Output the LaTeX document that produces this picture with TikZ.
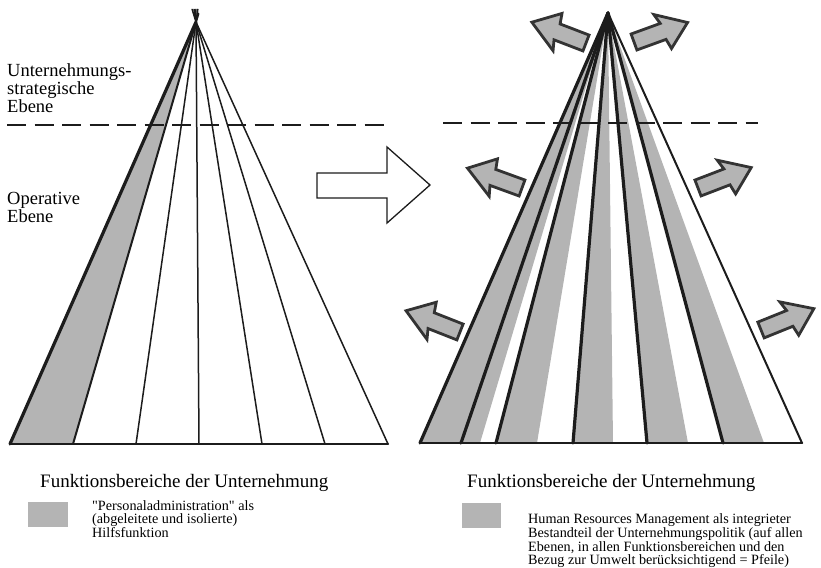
\documentclass[tikz,border=0pt]{standalone}
\usepackage{fontspec}
\setmainfont{Liberation Serif}[Ligatures=TeXOff]
\usetikzlibrary{calc}
\definecolor{fillgray}{RGB}{180,180,180}
\definecolor{ink}{RGB}{28,28,28}
\tikzset{
  thinline/.style={draw=ink, line width=1.5pt, line cap=round},
  thickline/.style={draw=ink, line width=3.2pt, line cap=round},
  dashline/.style={draw=ink, line width=1.6pt, dash pattern=on 19pt off 8.5pt},
  grayarrow/.style={fill=fillgray, draw=ink!90, line width=2.8pt, line join=miter},
  hollowarrow/.style={draw=ink, line width=1.3pt, fill=white, line join=miter},
  bigtxt/.style={anchor=base west, inner sep=0pt, font=\fontsize{18.5}{18.5}\selectfont},
  headtxt/.style={anchor=base west, inner sep=0pt, font=\fontsize{19}{19}\selectfont},
  smalltxt/.style={anchor=base west, inner sep=0pt, font=\fontsize{14.2}{14.2}\selectfont},
  legendbox/.style={fill=fillgray, draw=none}
}
\newcommand\grayarr[4]{%
  \draw[grayarrow, shift={(#1,#2)}, rotate=#3] (0,-8.5) -- (31,-8.5) -- (28,-19) -- (#4,0) -- (33,19) -- (31,8.5) -- (0,8.5) -- cycle;}
\begin{document}
\begin{tikzpicture}[x=1pt,y=-1pt]
\useasboundingbox (0,0) rectangle (821,567);

% ---------- left pyramid ----------
\coordinate (LA) at (196,22);
\coordinate (L0) at (10,444);
\coordinate (L1) at (73,444);
\coordinate (L2) at (136,444);
\coordinate (L3) at (199,444);
\coordinate (L4) at (262,444);
\coordinate (L5) at (325,444);
\coordinate (L6) at (388,444);
\fill[fillgray] (LA) -- (L0) -- (L1) -- cycle;
\draw[dashline] (7,125) -- (386,125);
\foreach \p in {L2,L3,L4,L5}{
  \draw[thinline] (\p) -- ($(\p)!1.03!(LA)$);
}
\draw[thinline] (L6) -- (LA);
\draw[thinline, line width=2pt] (L1) -- ($(L1)!1.02!(LA)$);
\draw[thickline] (L0) -- (LA);
\draw[thinline, line width=2.2pt] (L0) -- (L6);

% ---------- big hollow arrow ----------
\draw[hollowarrow] (317,173) -- (387,173) -- (387,147) -- (430,185) -- (387,223) -- (387,198) -- (317,198) -- cycle;

% ---------- right pyramid ----------
\coordinate (RA) at (608,13);
\foreach \a/\b in {420/480, 496/537, 573/613, 647/688, 723/764}{
  \fill[fillgray] (RA) -- (\a,443) -- (\b,443) -- cycle;
}
\draw[dashline] (443,123) -- (758,123);
\foreach \x in {420,461,496,573,647,723}{
  \draw[thickline] (\x,443) -- (RA);
}
\coordinate (R7) at (802,443);
\draw[thinline, line width=2pt] (R7) -- (RA);
\draw[thinline, line width=2.6pt] (420,443) -- (R7);

% ---------- small gray arrows ----------
\grayarr{586}{43}{159}{58}
\grayarr{522}{188}{160}{58}
\grayarr{460}{332}{158.5}{58}
\grayarr{634}{42}{20}{57}
\grayarr{698}{188}{21}{57}
\grayarr{761}{330}{22}{57}

% ---------- left labels ----------
\node[bigtxt] (t1) at (7,77) {Unternehmungs-};
\node[bigtxt] (t2) at (7,95) {strategische};
\node[bigtxt] (t3) at (7,113) {Ebene};
\node[bigtxt] (t4) at (7,204) {Operative};
\node[bigtxt] (t5) at (7,222.5) {Ebene};

% ---------- bottom headings ----------
\node[headtxt] (h1) at (40,487) {Funktionsbereiche der Unternehmung};
\node[headtxt] (h2) at (467,487) {Funktionsbereiche der Unternehmung};

% ---------- legends ----------
\fill[legendbox] (28,502) rectangle (68,527);
\node[smalltxt] (l1) at (92,510) {"Personaladministration" als};
\node[smalltxt] (l2) at (92,523.5) {(abgeleitete und isolierte)};
\node[smalltxt] (l3) at (92,537) {Hilfsfunktion};

\fill[legendbox] (462,503) rectangle (501,528);
\node[smalltxt] (r1) at (528,523) {Human Resources Management als integrieter};
\node[smalltxt] (r2) at (528,537) {Bestandteil der Unternehmungspolitik (auf allen};
\node[smalltxt] (r3) at (528,551) {Ebenen, in allen Funktionsbereichen und den};
\node[smalltxt] (r4) at (528,564.5) {Bezug zur Umwelt berücksichtigend = Pfeile)};
\end{tikzpicture}
\end{document}
